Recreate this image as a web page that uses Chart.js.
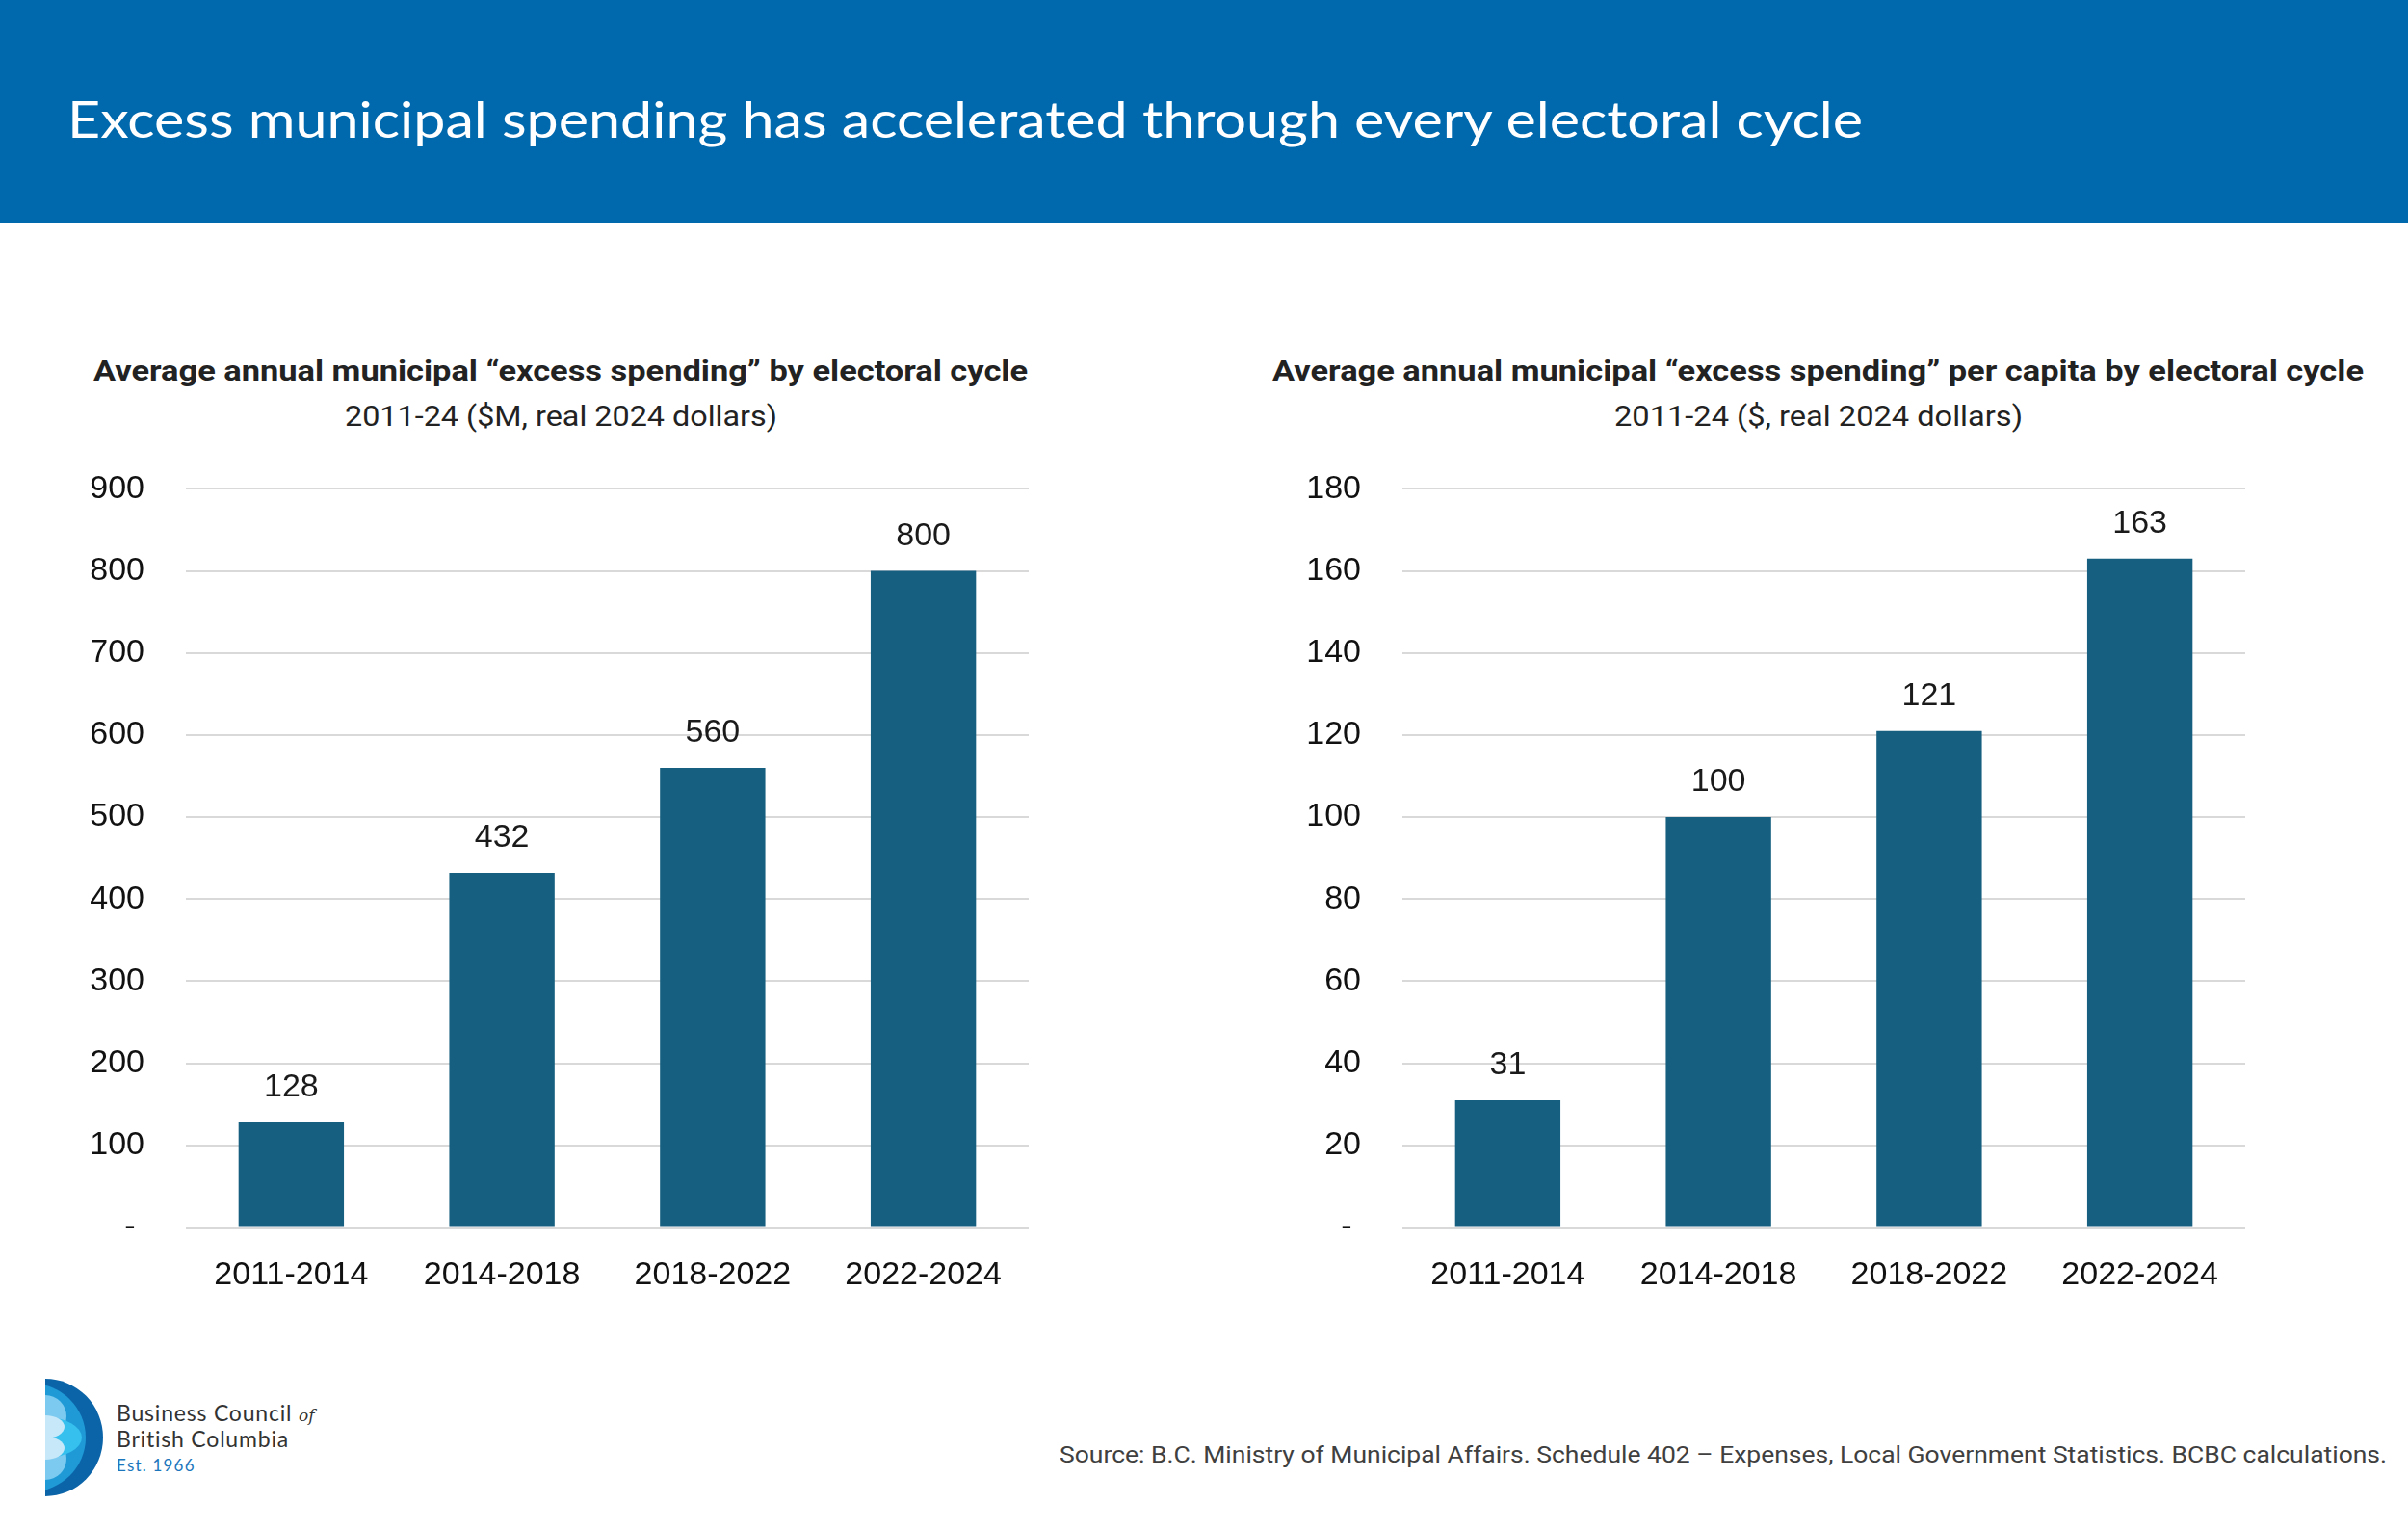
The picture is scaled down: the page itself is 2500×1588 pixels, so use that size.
<!DOCTYPE html>
<html>
<head>
<meta charset="utf-8">
<script src="https://cdn.jsdelivr.net/npm/chart.js@4.4.1/dist/chart.umd.min.js"></script>
<style>
  html, body { margin: 0; padding: 0; background: #ffffff; }
  #page { position: relative; width: 2500px; height: 1588px; overflow: hidden; background: #fff; }
  #overlay { position: absolute; left: 0; top: 0; }
  .cwrap { position: absolute; }
  .cwrap canvas { display: block; }
</style>
</head>
<body>
<div id="page">
<svg id="overlay" width="2500" height="1588" xmlns="http://www.w3.org/2000/svg">
  <defs>
    <clipPath id="logoClip"><rect x="47" y="1420" width="80" height="150"/></clipPath>
  </defs>
  <rect x="0" y="0" width="2500" height="231" fill="#0069ae"/>
  <text x="70" y="143" font-family="Lato, 'Open Sans', sans-serif" font-size="52" fill="#ffffff" textLength="1864" lengthAdjust="spacingAndGlyphs">Excess municipal spending has accelerated through every electoral cycle</text>

  <text x="97" y="395" font-family="Roboto, sans-serif" font-weight="bold" font-size="29" fill="#222222" textLength="970" lengthAdjust="spacingAndGlyphs">Average annual municipal “excess spending” by electoral cycle</text>
  <text x="358" y="442" font-family="Roboto, sans-serif" font-size="29" fill="#222222" textLength="449" lengthAdjust="spacingAndGlyphs">2011-24 ($M, real 2024 dollars)</text>

  <text x="1321" y="395" font-family="Roboto, sans-serif" font-weight="bold" font-size="29" fill="#222222" textLength="1133" lengthAdjust="spacingAndGlyphs">Average annual municipal “excess spending” per capita by electoral cycle</text>
  <text x="1676" y="442" font-family="Roboto, sans-serif" font-size="29" fill="#222222" textLength="424" lengthAdjust="spacingAndGlyphs">2011-24 ($, real 2024 dollars)</text>

  <text x="1100" y="1518" font-family="Roboto, sans-serif" font-size="23" fill="#404040" textLength="1378" lengthAdjust="spacingAndGlyphs">Source: B.C. Ministry of Municipal Affairs. Schedule 402 – Expenses, Local Government Statistics. BCBC calculations.</text>

  <g clip-path="url(#logoClip)">
    <ellipse cx="47" cy="1492" rx="60" ry="61" fill="#0b64a8"/>
    <circle cx="33" cy="1492" r="56" fill="#1f9ad6"/>
    <circle cx="47" cy="1470" r="22" fill="#7ccaef"/>
    <circle cx="47" cy="1514" r="22" fill="#7ccaef"/>
    <ellipse cx="47" cy="1492" rx="38" ry="21" fill="#35c0ee"/>
    <ellipse cx="47" cy="1481" rx="20" ry="12" fill="#c6e8f8"/>
    <ellipse cx="47" cy="1503" rx="20" ry="12" fill="#c6e8f8"/>
  </g>
  <text x="121" y="1475" font-family="Lato, sans-serif" font-size="23" fill="#333333" letter-spacing="0.8">Business Council <tspan font-family="'DejaVu Serif', serif" font-style="italic" font-size="17" letter-spacing="0">of</tspan></text>
  <text x="121" y="1502" font-family="Lato, sans-serif" font-size="23" fill="#333333" letter-spacing="0.8">British Columbia</text>
  <text x="121" y="1527" font-family="Lato, sans-serif" font-size="17" fill="#1b76bc" letter-spacing="1.2">Est. 1966</text>
</svg>

<div class="cwrap" style="left:40px; top:444px; width:1060px; height:926px;"><canvas id="c1" width="1060" height="926"></canvas></div>
<div class="cwrap" style="left:1300px; top:444px; width:1060px; height:926px;"><canvas id="c2" width="1060" height="926"></canvas></div>
</div>

<script>
// ---- Data ----
const categories = ['2011-2014', '2014-2018', '2018-2022', '2022-2024'];
const totalSpending = [128, 432, 560, 800];        // $M, real 2024 dollars
const perCapitaSpending = [31, 100, 121, 163];     // $, real 2024 dollars
const leftYTickLabels = ['- ', '100', '200', '300', '400', '500', '600', '700', '800', '900'];
const rightYTickLabels = ['- ', '20', '40', '60', '80', '100', '120', '140', '160', '180'];

const BAR_COLOR = '#175f80';
const TICK_FONT = { family: "'Liberation Sans', Arial, sans-serif", size: 34 };

const valueLabels = {
  id: 'valueLabels',
  afterDatasetsDraw(chart) {
    const ctx = chart.ctx;
    const meta = chart.getDatasetMeta(0);
    const data = chart.data.datasets[0].data;
    ctx.save();
    ctx.font = "34px 'Liberation Sans', Arial, sans-serif";
    ctx.fillStyle = '#1a1a1a';
    ctx.textAlign = 'center';
    ctx.textBaseline = 'middle';
    meta.data.forEach((bar, i) => {
      ctx.fillText(String(data[i]), bar.x, bar.y - 36);
    });
    ctx.restore();
  }
};

function makeChart(id, values, max, step, tickLabels, yWidth, padRight) {
  return new Chart(document.getElementById(id), {
    type: 'bar',
    data: {
      labels: categories,
      datasets: [{
        data: values,
        backgroundColor: BAR_COLOR,
        borderWidth: 0,
        categoryPercentage: 1.0,
        barPercentage: 0.5
      }]
    },
    options: {
      responsive: false,
      animation: false,
      devicePixelRatio: 1,
      layout: { padding: { top: 35, right: padRight, left: 0, bottom: 0 } },
      plugins: { legend: { display: false }, tooltip: { enabled: false }, title: { display: false } },
      scales: {
        x: {
          grid: { display: false, drawTicks: false },
          border: { display: false },
          ticks: { font: TICK_FONT, color: '#111111', padding: 29, maxRotation: 0 },
          afterFit(scale) { scale.height = 96; }
        },
        y: {
          min: 0, max: max,
          grid: {
            color: '#d9d9d9',
            lineWidth: (c) => (c.tick && c.tick.value === 0 ? 3 : 2),
            drawTicks: false
          },
          border: { display: false },
          ticks: {
            stepSize: step,
            font: TICK_FONT,
            color: '#111111',
            padding: 43,
            callback: (v, i) => tickLabels[i]
          },
          afterFit(scale) { scale.width = yWidth; }
        }
      }
    },
    plugins: [valueLabels]
  });
}

makeChart('c1', totalSpending, 900, 100, leftYTickLabels, 153, 32);
makeChart('c2', perCapitaSpending, 180, 20, rightYTickLabels, 156, 29);
</script>
</body>
</html>
